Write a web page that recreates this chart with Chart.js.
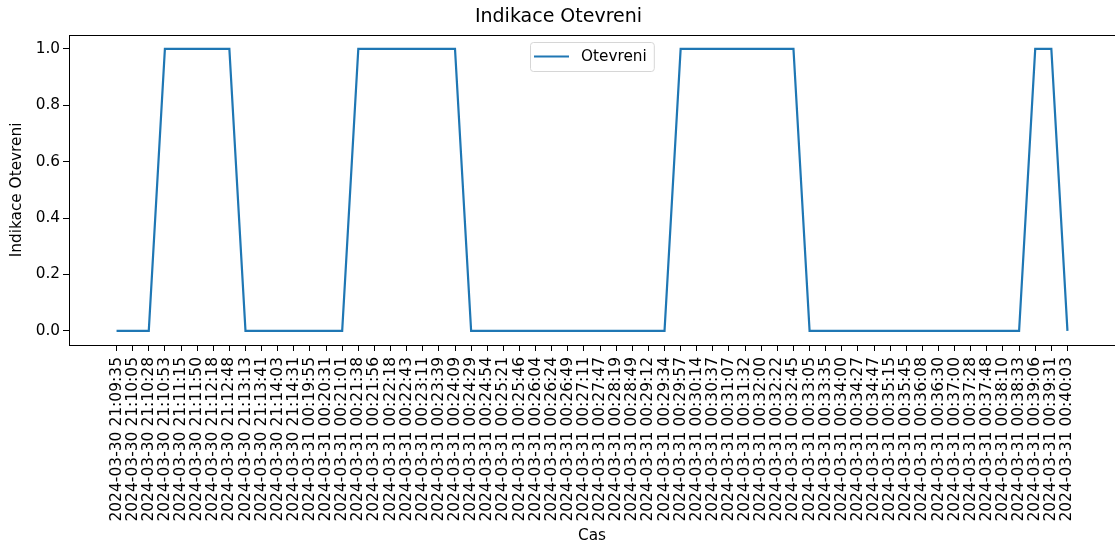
<!DOCTYPE html>
<html>
<head>
<meta charset="utf-8">
<title>Indikace Otevreni</title>
<script src="https://cdn.jsdelivr.net/npm/chart.js@4/dist/chart.umd.min.js"></script>
<style>
  html, body { margin: 0; padding: 0; background: #fff; }
  canvas { display: block; }
</style>
</head>
<body>
<canvas id="chart" width="1115" height="546"></canvas>
<script>
// casy mereni (osa x)
const casy = [
  '2024-03-30 21:09:35', '2024-03-30 21:10:05', '2024-03-30 21:10:28', '2024-03-30 21:10:53',
  '2024-03-30 21:11:15', '2024-03-30 21:11:50', '2024-03-30 21:12:18', '2024-03-30 21:12:48',
  '2024-03-30 21:13:13', '2024-03-30 21:13:41', '2024-03-30 21:14:03', '2024-03-30 21:14:31',
  '2024-03-31 00:19:55', '2024-03-31 00:20:31', '2024-03-31 00:21:01', '2024-03-31 00:21:38',
  '2024-03-31 00:21:56', '2024-03-31 00:22:18', '2024-03-31 00:22:43', '2024-03-31 00:23:11',
  '2024-03-31 00:23:39', '2024-03-31 00:24:09', '2024-03-31 00:24:29', '2024-03-31 00:24:54',
  '2024-03-31 00:25:21', '2024-03-31 00:25:46', '2024-03-31 00:26:04', '2024-03-31 00:26:24',
  '2024-03-31 00:26:49', '2024-03-31 00:27:11', '2024-03-31 00:27:47', '2024-03-31 00:28:19',
  '2024-03-31 00:28:49', '2024-03-31 00:29:12', '2024-03-31 00:29:34', '2024-03-31 00:29:57',
  '2024-03-31 00:30:14', '2024-03-31 00:30:37', '2024-03-31 00:31:07', '2024-03-31 00:31:32',
  '2024-03-31 00:32:00', '2024-03-31 00:32:22', '2024-03-31 00:32:45', '2024-03-31 00:33:05',
  '2024-03-31 00:33:35', '2024-03-31 00:34:00', '2024-03-31 00:34:27', '2024-03-31 00:34:47',
  '2024-03-31 00:35:15', '2024-03-31 00:35:45', '2024-03-31 00:36:08', '2024-03-31 00:36:30',
  '2024-03-31 00:37:00', '2024-03-31 00:37:28', '2024-03-31 00:37:48', '2024-03-31 00:38:10',
  '2024-03-31 00:38:33', '2024-03-31 00:39:06', '2024-03-31 00:39:31', '2024-03-31 00:40:03'
];

// indikace otevreni (0 / 1)
const otevreni = [
  0, 0, 0, 1, 1, 1, 1, 1, 0, 0, 0, 0, 0, 0, 0, 1, 1, 1, 1, 1,
  1, 1, 0, 0, 0, 0, 0, 0, 0, 0, 0, 0, 0, 0, 0, 1, 1, 1, 1, 1,
  1, 1, 1, 0, 0, 0, 0, 0, 0, 0, 0, 0, 0, 0, 0, 0, 0, 1, 1, 0
];

const yTicks = [0, 0.2, 0.4, 0.6, 0.8, 1.0];

const FONT = 'DejaVu Sans';
const BLUE = '#1f77b4';

// okraj jako v matplotlibu (5 % z rozsahu)
const xPad = (casy.length - 1) * 0.05;

// ramecek kolem grafu (pravy okraj je mimo obrazek)
const frame = {
  id: 'frame',
  afterDraw(chart) {
    const { ctx, chartArea: a } = chart;
    ctx.save();
    ctx.strokeStyle = '#000';
    ctx.lineWidth = 1;
    ctx.strokeRect(Math.round(a.left) + 0.5, Math.round(a.top) + 0.5,
      Math.round(a.right - a.left), Math.round(a.bottom - a.top));
    ctx.restore();
  }
};

// legenda uvnitr grafu, nahore uprostred
const innerLegend = {
  id: 'innerLegend',
  afterDraw(chart) {
    const { ctx, chartArea: a } = chart;
    const ds = chart.data.datasets[0];
    ctx.save();
    ctx.font = '15.3px "' + FONT + '"';
    const tw = ctx.measureText(ds.label).width;
    const w = tw + 58;
    const h = 29;
    const x = Math.round((a.left + a.right) / 2 - w / 2);
    const y = Math.round(a.top + 7);
    ctx.beginPath();
    ctx.roundRect(x + 0.5, y + 0.5, w, h, 3);
    ctx.fillStyle = 'rgba(255,255,255,0.8)';
    ctx.fill();
    ctx.strokeStyle = '#d6d6d6';
    ctx.lineWidth = 1;
    ctx.stroke();
    ctx.beginPath();
    ctx.moveTo(x + 4, y + h / 2);
    ctx.lineTo(x + 39, y + h / 2);
    ctx.strokeStyle = ds.borderColor;
    ctx.lineWidth = ds.borderWidth;
    ctx.stroke();
    ctx.fillStyle = '#000';
    ctx.textBaseline = 'middle';
    ctx.fillText(ds.label, x + 51, y + h / 2 + 1);
    ctx.restore();
  }
};

new Chart(document.getElementById('chart'), {
  type: 'line',
  data: {
    datasets: [{
      label: 'Otevreni',
      data: otevreni.map((v, i) => ({ x: i, y: v })),
      borderColor: BLUE,
      backgroundColor: BLUE,
      borderWidth: 2.2,
      pointRadius: 0,
      tension: 0
    }]
  },
  options: {
    responsive: false,
    animation: false,
    layout: { padding: { left: 0, right: -2, top: 0, bottom: 0 } },
    plugins: {
      legend: { display: false },
      tooltip: { enabled: false },
      title: {
        display: true,
        text: 'Indikace Otevreni',
        color: '#000',
        font: { family: FONT, size: 19, weight: 'normal' },
        padding: { top: 6, bottom: 6 }
      }
    },
    scales: {
      x: {
        type: 'linear',
        min: -xPad,
        max: casy.length - 1 + xPad,
        afterBuildTicks(scale) {
          scale.ticks = casy.map((_, i) => ({ value: i }));
        },
        afterFit(scale) { scale.height = 201; },
        ticks: {
          autoSkip: false,
          minRotation: 90,
          maxRotation: 90,
          padding: 6,
          color: '#000',
          font: { family: FONT, size: 15.5 },
          callback: (v) => casy[v] ?? ''
        },
        grid: {
          drawOnChartArea: false,
          drawTicks: true,
          tickLength: 6,
          color: '#000'
        },
        border: { display: false },
        title: {
          display: true,
          text: 'Cas',
          color: '#000',
          font: { family: FONT, size: 15.3 },
          padding: { top: 0, bottom: 1 }
        }
      },
      y: {
        min: -0.05,
        max: 1.05,
        afterBuildTicks(scale) {
          scale.ticks = yTicks.map(v => ({ value: v }));
        },
        afterFit(scale) { scale.width = 69; },
        ticks: {
          padding: 3,
          color: '#000',
          font: { family: FONT, size: 15.3 },
          callback: (v) => v.toFixed(1)
        },
        grid: {
          drawOnChartArea: false,
          drawTicks: true,
          tickLength: 6,
          color: '#000'
        },
        border: { display: false },
        title: {
          display: true,
          text: 'Indikace Otevreni',
          color: '#000',
          font: { family: FONT, size: 15.3 },
          padding: { top: 8, bottom: 0 }
        }
      }
    }
  },
  plugins: [frame, innerLegend]
});
</script>
</body>
</html>
